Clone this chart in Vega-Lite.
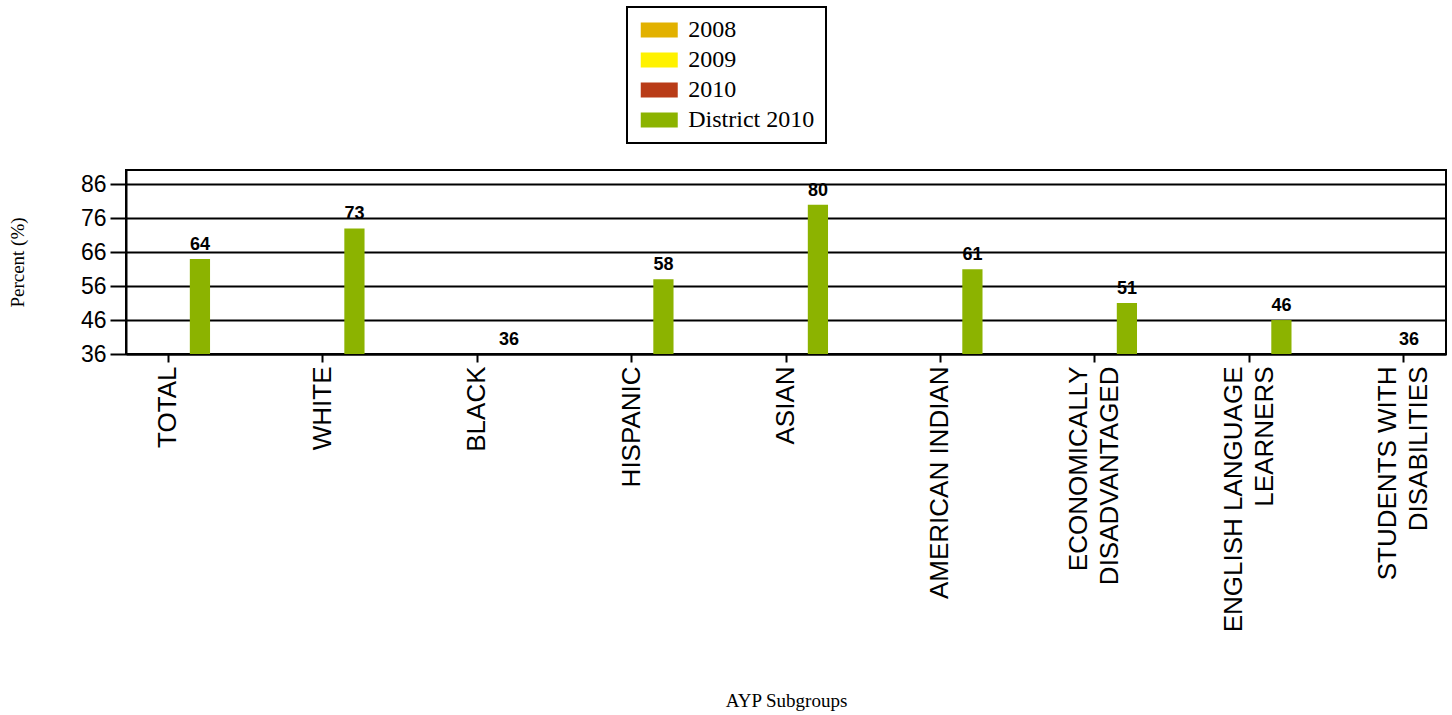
{
  "$schema": "https://vega.github.io/schema/vega-lite/v6.json",
  "width": 1320,
  "height": 184,
  "autosize": {"type": "none"},
  "padding": {"left": 126, "top": 170, "right": 6, "bottom": 361},
  "background": "white",
  "config": {
    "view": {"stroke": "black", "strokeWidth": 2},
    "legend": {"strokeColor": "black", "strokeWidth": 2}
  },
  "data": {
    "values": [
      {"group": "TOTAL", "series": "District 2010", "value": 64},
      {"group": "WHITE", "series": "District 2010", "value": 73},
      {"group": "BLACK", "series": "District 2010", "value": 36},
      {"group": "HISPANIC", "series": "District 2010", "value": 58},
      {"group": "ASIAN", "series": "District 2010", "value": 80},
      {"group": "AMERICAN INDIAN", "series": "District 2010", "value": 61},
      {"group": "ECONOMICALLY DISADVANTAGED", "series": "District 2010", "value": 51},
      {"group": "ENGLISH LANGUAGE LEARNERS", "series": "District 2010", "value": 46},
      {"group": "STUDENTS WITH DISABILITIES", "series": "District 2010", "value": 36}
    ]
  },
  "encoding": {
    "x": {
      "field": "group",
      "type": "nominal",
      "sort": null,
      "scale": {"paddingInner": 0.456, "paddingOuter": 0},
      "axis": {
        "labelAngle": -90,
        "labelFont": "Liberation Sans",
        "labelFontSize": 26,
        "labelColor": "black",
        "labelLineHeight": 31,
        "labelPadding": 4,
        "labelLimit": 400,
        "labelOffset": {
          "condition": {
            "test": "datum.value == 'ECONOMICALLY DISADVANTAGED' || datum.value == 'ENGLISH LANGUAGE LEARNERS' || datum.value == 'STUDENTS WITH DISABILITIES'",
            "value": -15.5
          },
          "value": 0
        },
        "labelExpr": "datum.label == 'ECONOMICALLY DISADVANTAGED' ? ['ECONOMICALLY', 'DISADVANTAGED'] : datum.label == 'ENGLISH LANGUAGE LEARNERS' ? ['ENGLISH LANGUAGE', 'LEARNERS'] : datum.label == 'STUDENTS WITH DISABILITIES' ? ['STUDENTS WITH', 'DISABILITIES'] : datum.label",
        "tickSize": 8,
        "tickColor": "black",
        "tickWidth": 2,
        "domainColor": "black",
        "domainWidth": 2,
        "title": "AYP Subgroups",
        "titleFont": "Liberation Serif",
        "titleFontSize": 19,
        "titleFontWeight": "normal",
        "titleColor": "black",
        "titleY": 346,
        "titleBaseline": "middle"
      }
    },
    "xOffset": {
      "field": "series",
      "type": "nominal",
      "scale": {"domain": ["2008", "2009", "2010", "District 2010"], "paddingInner": 0.05}
    },
    "y": {
      "field": "value",
      "type": "quantitative",
      "scale": {"domain": [36, 90.2], "nice": false, "zero": false},
      "axis": {
        "values": [36, 46, 56, 66, 76, 86],
        "grid": true,
        "gridColor": "black",
        "gridWidth": 2,
        "gridOpacity": 1,
        "tickSize": 16,
        "tickColor": "black",
        "tickWidth": 2,
        "domainColor": "black",
        "domainWidth": 2,
        "labelFont": "Liberation Sans",
        "labelFontSize": 23,
        "labelColor": "black",
        "labelPadding": 4,
        "title": "Percent (%)",
        "titleFont": "Liberation Serif",
        "titleFontSize": 19,
        "titleFontWeight": "normal",
        "titleColor": "black",
        "titleX": -109,
        "titleY": 92,
        "titleAngle": -90,
        "titleAlign": "center",
        "titleBaseline": "middle"
      }
    }
  },
  "layer": [
    {
      "mark": {"type": "bar"},
      "encoding": {
        "y2": {"datum": 36},
        "color": {
          "field": "series",
          "type": "nominal",
          "scale": {
            "domain": ["2008", "2009", "2010", "District 2010"],
            "range": ["#E2B100", "#FFF200", "#B93C17", "#8CB300"]
          },
          "legend": {
            "title": null,
            "orient": "none",
            "legendX": 501,
            "legendY": -163,
            "direction": "vertical",
            "symbolType": "M-2,-0.8H2V0.8H-2Z",
            "symbolSize": 342,
            "symbolOffset": 9.25,
            "symbolStrokeWidth": 0,
            "symbolOpacity": 1,
            "labelOffset": 17,
            "labelFont": "Liberation Serif",
            "labelFontSize": 24,
            "labelColor": "black",
            "rowPadding": 6,
            "padding": 11,
            "fillColor": "white"
          }
        }
      }
    },
    {
      "transform": [{"filter": "datum.group != 'STUDENTS WITH DISABILITIES'"}],
      "mark": {
        "type": "text",
        "font": "Liberation Sans",
        "fontWeight": "bold",
        "fontSize": 18,
        "baseline": "bottom",
        "dy": -5,
        "color": "black"
      },
      "encoding": {
        "text": {"field": "value", "type": "quantitative"}
      }
    },
    {
      "transform": [{"filter": "datum.group == 'STUDENTS WITH DISABILITIES'"}],
      "mark": {
        "type": "text",
        "font": "Liberation Sans",
        "fontWeight": "bold",
        "fontSize": 18,
        "baseline": "bottom",
        "dy": -5,
        "dx": -27,
        "color": "black"
      },
      "encoding": {
        "text": {"field": "value", "type": "quantitative"}
      }
    }
  ]
}
